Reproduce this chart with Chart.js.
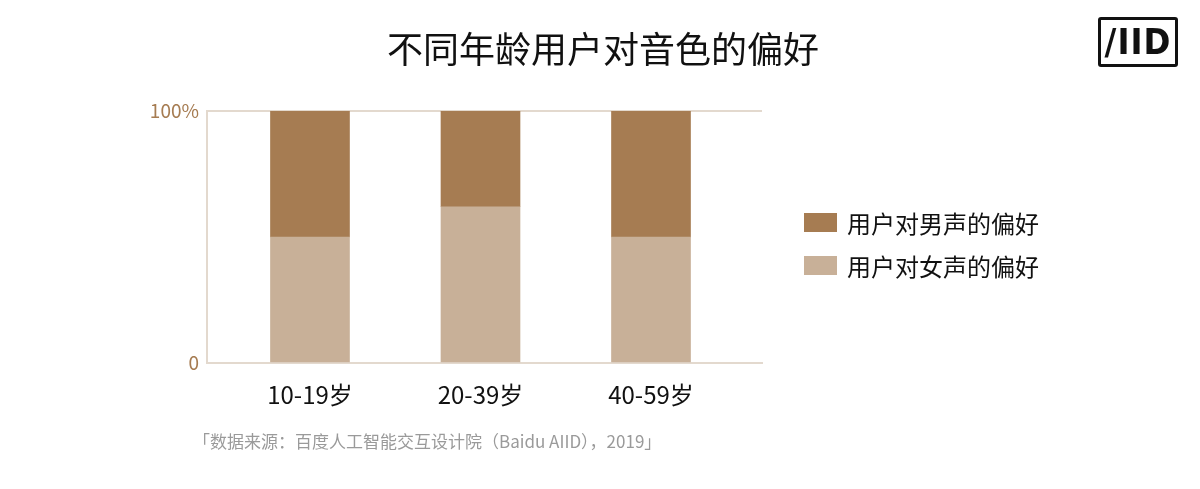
<!DOCTYPE html>
<html>
<head>
<meta charset="utf-8">
<script src="https://cdn.jsdelivr.net/npm/chart.js@4/dist/chart.umd.min.js"></script>
<style>
    body { margin: 0; background: #fff; font-family: "Noto Sans CJK SC", "Noto Sans", sans-serif; }
    #wrap { position: relative; width: 1200px; height: 489px; overflow: hidden; }
    #chart { position: absolute; left: 0; top: 0; }
    .title { position: absolute; left: 0; width: 1206px; top: 22px; text-align: center; font-size: 36px; color: #111; line-height: 50px; }
    .legend { position: absolute; left: 804px; top: 201px; }
    .legend div { height: 43px; display: flex; align-items: center; font-size: 24px; color: #111; }
    .legend span { display: inline-block; width: 33px; height: 19px; margin-right: 10px; }
    .source { position: absolute; left: 193px; top: 428px; font-size: 17px; color: #9a9a9a; line-height: 26px; }
    .logo { position: absolute; left: 1098px; top: 17px; width: 74px; height: 44px; border: 3px solid #111; border-radius: 3px;
            font: bold 36px "DejaVu Sans Condensed", sans-serif; color: #111; text-align: center; line-height: 44px; letter-spacing: 1px; }
</style>
</head>
<body>
<div id="wrap">
    <canvas id="chart" width="1200" height="489"></canvas>
    <div class="title">不同年龄用户对音色的偏好</div>
    <div class="legend">
        <div><span style="background:#a67c52"></span>用户对男声的偏好</div>
        <div><span style="background:#c8b098"></span>用户对女声的偏好</div>
    </div>
    <div class="source">「数据来源：百度人工智能交互设计院（Baidu AIID），2019」</div>
    <div class="logo">/IID</div>
</div>
<script>
// --- DATA ---
const ageGroups = ['10-19岁', '20-39岁', '40-59岁'];
const femalePref = [50, 62, 50];   // 用户对女声的偏好 (%)
const malePref = [50, 38, 50];     // 用户对男声的偏好 (%)
const yTicks = [0, 100];

const FONT = '"Noto Sans CJK SC", "Noto Sans", sans-serif';
const AXIS_COLOR = '#e3d9ce';

function toPoints(values) {
    return values.map((v, i) => ({ x: i, y: v }));
}

new Chart(document.getElementById('chart').getContext('2d'), {
    type: 'bar',
    data: {
        datasets: [
            { label: '用户对女声的偏好', data: toPoints(femalePref), backgroundColor: '#c8b098', barThickness: 79 },
            { label: '用户对男声的偏好', data: toPoints(malePref), backgroundColor: '#a67c52', barThickness: 79 }
        ]
    },
    options: {
        responsive: false,
        animation: false,
        layout: { padding: { top: 111, right: 438, bottom: 0, left: 0 } },
        plugins: { legend: { display: false }, tooltip: { enabled: false } },
        scales: {
            x: {
                type: 'linear',
                stacked: true,
                offset: false,
                min: -0.604,
                max: 2.651,
                afterBuildTicks: scale => { scale.ticks = ageGroups.map((_, i) => ({ value: i })); },
                afterFit: scale => { scale.height = 126; },
                grid: { display: false },
                border: { color: AXIS_COLOR, width: 2 },
                ticks: {
                    callback: value => ageGroups[value],
                    color: '#111',
                    font: { family: FONT, size: 24 },
                    padding: 9,
                    maxRotation: 0
                }
            },
            y: {
                stacked: true,
                min: 0,
                max: 100,
                afterBuildTicks: scale => { scale.ticks = yTicks.map(v => ({ value: v })); },
                afterFit: scale => { scale.width = 207; },
                grid: {
                    drawTicks: false,
                    color: ctx => (ctx.tick && ctx.tick.value === 100 ? AXIS_COLOR : 'rgba(0,0,0,0)'),
                    lineWidth: 2
                },
                border: { color: AXIS_COLOR, width: 2 },
                ticks: {
                    callback: value => (value === 100 ? '100%' : '0'),
                    color: '#a67c52',
                    font: { family: FONT, size: 19 },
                    padding: 8
                }
            }
        }
    }
});
</script>
</body>
</html>
